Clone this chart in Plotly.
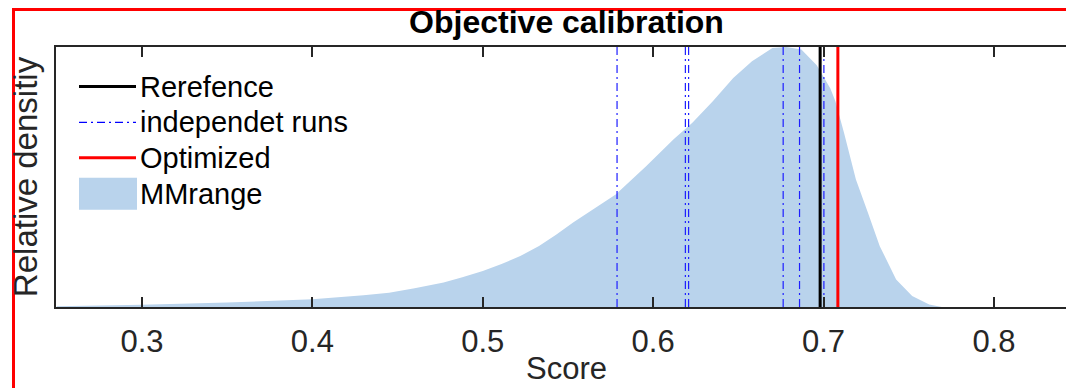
import plotly.graph_objects as go

# ---------------- data ----------------
score_grid = [0.25, 0.27, 0.30, 0.35, 0.40, 0.43, 0.445, 0.46, 0.477, 0.488, 0.50,
              0.511, 0.522, 0.533, 0.543, 0.553, 0.565, 0.578, 0.596, 0.612, 0.623,
              0.635, 0.647, 0.658, 0.670, 0.678, 0.687, 0.696, 0.704, 0.707, 0.712,
              0.716, 0.719, 0.726, 0.733, 0.7426, 0.752, 0.762, 0.7694]
mm_density = [0.003, 0.005, 0.009, 0.017, 0.030, 0.045, 0.055, 0.072, 0.094, 0.114, 0.138,
              0.165, 0.196, 0.235, 0.278, 0.325, 0.377, 0.433, 0.542, 0.645, 0.709,
              0.791, 0.881, 0.945, 0.996, 1.000, 0.990, 0.930, 0.840, 0.790, 0.670,
              0.570, 0.490, 0.363, 0.234, 0.106, 0.042, 0.010, 0.000]

reference_score = [0.698]
independent_runs = [0.5788, 0.6189, 0.6208, 0.6763, 0.6859, 0.7002]
optimized_score = [0.7084]

x_ticks = [0.3, 0.4, 0.5, 0.6, 0.7, 0.8]
x_tick_labels = ["0.3", "0.4", "0.5", "0.6", "0.7", "0.8"]

legend_labels = ["Rerefence", "independet runs", "Optimized", "MMrange"]

title_text = "Objective calibration"
x_label = "Score"
y_label = "Relative densitiy"

# ---------------- styling ----------------
W, H = 1066, 388
L, R, T, B = 56, 0, 47, 80.5
FILL = "rgb(185,211,236)"
AX = "#262626"
FONT = "Liberation Sans, Arial, Helvetica, sans-serif"
DASHDOT = "8px,4px,2px,4px"

pw = W - L - R
ph = H - T - B


def px_x(p):
    return (p - L) / pw


def px_y(p):
    return (H - B - p) / ph


fig = go.Figure()

fig.add_trace(go.Scatter(
    x=score_grid, y=mm_density, mode="lines", fill="tozeroy",
    fillcolor=FILL, line=dict(width=0, color=FILL), showlegend=False,
    hoverinfo="skip"))

for v in reference_score:
    fig.add_trace(go.Scatter(x=[v, v], y=[0, 1], mode="lines",
                             line=dict(color="black", width=3), showlegend=False))
for v in independent_runs:
    fig.add_trace(go.Scatter(x=[v, v], y=[0, 1], mode="lines",
                             line=dict(color="rgb(30,30,255)", width=1.2, dash=DASHDOT),
                             showlegend=False))
for v in optimized_score:
    fig.add_trace(go.Scatter(x=[v, v], y=[0, 1], mode="lines",
                             line=dict(color="rgb(255,0,0)", width=3), showlegend=False))

# ---------------- manual legend (no box) ----------------
shapes = []
annotations = []
row_y = [86.7, 122.5, 158, 194]
x0s, x1s, xt = 79, 136, 138
sample_styles = [
    dict(color="black", width=3),
    dict(color="rgb(0,0,255)", width=1.2, dash=DASHDOT),
    dict(color="red", width=3),
]
for i, lab in enumerate(legend_labels):
    yy = row_y[i]
    if i < 3:
        shapes.append(dict(type="line", xref="paper", yref="paper",
                           x0=px_x(x0s), x1=px_x(x1s), y0=px_y(yy), y1=px_y(yy),
                           line=sample_styles[i]))
    else:
        shapes.append(dict(type="rect", xref="paper", yref="paper",
                           x0=px_x(x0s), x1=px_x(x1s + 1), y0=px_y(yy - 16), y1=px_y(yy + 16),
                           fillcolor=FILL, line=dict(width=0)))
    annotations.append(dict(text=lab, xref="paper", yref="paper",
                            x=px_x(xt), y=px_y(yy), xanchor="left", yanchor="middle",
                            showarrow=False, font=dict(size=29, color="black", family=FONT)))

# x-axis label
annotations.append(dict(text=x_label, xref="paper", yref="paper",
                        x=px_x(566.5), y=px_y(369.5), xanchor="center", yanchor="middle",
                        showarrow=False, font=dict(size=31, color=AX, family=FONT)))

# red figure border (cropped on right and bottom)
shapes.append(dict(type="rect", xref="paper", yref="paper",
                   x0=px_x(13.5), x1=px_x(W + 20), y0=px_y(H + 20), y1=px_y(9.5),
                   line=dict(color="red", width=3), fillcolor="rgba(0,0,0,0)", layer="above"))

fig.update_layout(
    width=W, height=H,
    margin=dict(l=L, r=R, t=T, b=B, pad=0, autoexpand=False),
    paper_bgcolor="white", plot_bgcolor="white",
    font=dict(family=FONT, color=AX),
    showlegend=False,
    title=dict(text="<b>" + title_text + "</b>", x=px_x(566.5), xref="paper", xanchor="center",
               y=1 - 22 / H, yref="container", yanchor="middle",
               font=dict(size=32, color="black", family=FONT)),
    shapes=shapes,
    annotations=annotations,
)

fig.update_xaxes(
    range=[0.2495, 0.8423], tickvals=x_ticks, ticktext=x_tick_labels,
    ticks="inside", ticklen=10, tickwidth=1.5, tickcolor=AX,
    showline=True, linecolor=AX, linewidth=2, mirror="ticks",
    showgrid=False, zeroline=False, ticklabelstandoff=6, automargin=False,
    tickfont=dict(size=31, color=AX, family=FONT),
)
fig.update_yaxes(
    range=[0, 1], showticklabels=False, ticks="",
    showline=True, linecolor=AX, linewidth=2, mirror=False,
    showgrid=False, zeroline=False, automargin=False,
    title=dict(text=y_label, font=dict(size=33, color=AX, family=FONT), standoff=6),
)

fig.write_html("out.html")
